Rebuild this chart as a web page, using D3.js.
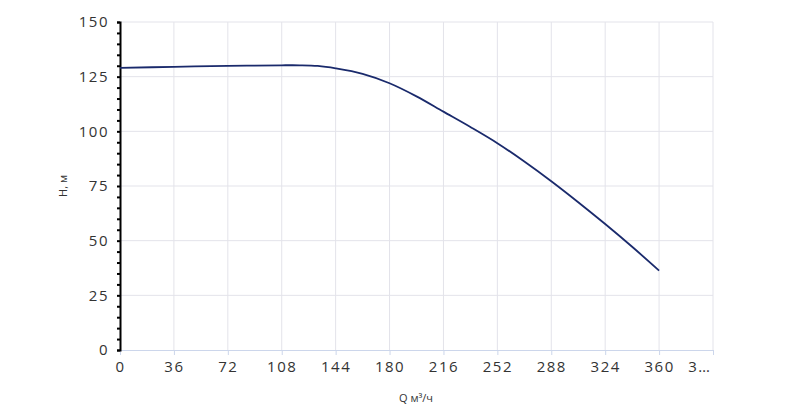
<!DOCTYPE html><html><head><meta charset="utf-8"><script src="https://cdn.jsdelivr.net/npm/d3@7"></script>
<style>body{margin:0;background:#fff}text{font-family:"Open Sans",sans-serif}</style></head><body><svg width="800" height="408"></svg>
<script>
const xTicks=[0,36,72,108,144,180,216,252,288,324,360,396];
const xTickLabels=["0","36","72","108","144","180","216","252","288","324","360","3…"];
const yTicks=[0,25,50,75,100,125,150];
const flowQ=[0,36,72,108,120,132,144,162,180,198,216,234,252,270,288,306,324,342,360];
const headH=[129,129.5,129.9,130.2,130.2,129.9,128.8,126.3,122,116,109,102,94.6,86.2,77.2,67.6,57.6,47.2,36.3];
const svg=d3.select("svg");
const x=d3.scaleLinear().domain([0,396]).range([120,713]);
const y=d3.scaleLinear().domain([0,150]).range([350,22]);
const g=svg.append("g");
g.selectAll(".vg").data(xTicks.slice(1)).join("line").attr("x1",d=>x(d)).attr("x2",d=>x(d)).attr("y1",y(150)).attr("y2",y(0)).attr("stroke","#e3e3ea");
g.selectAll(".hg").data(yTicks.slice(1)).join("line").attr("x1",x(0)).attr("x2",x(396)).attr("y1",d=>y(d)).attr("y2",d=>y(d)).attr("stroke","#e3e3ea");
const xa=svg.append("g").attr("transform","translate(0,350)").call(d3.axisBottom(x).tickValues(xTicks).tickFormat((d,i)=>xTickLabels[i]).tickSize(5).tickPadding(6));
xa.select(".domain").attr("stroke","#ccd6eb");
xa.selectAll(".tick line").attr("stroke","#ccd6eb");
xa.selectAll("text").attr("font-size",15).attr("fill","#333").attr("letter-spacing","1.5px");
xa.selectAll(".tick").filter(d=>d===396).select("text").attr("text-anchor","end").attr("dx",-2);
const ya=svg.append("g").attr("transform","translate(120,0)").call(d3.axisLeft(y).tickValues(d3.range(0,151,5)).tickFormat(d=>d%25===0?d:"").tickSize(3).tickPadding(8));
ya.select(".domain").attr("stroke","#000").attr("stroke-width",2);
ya.selectAll(".tick line").attr("stroke","#000").attr("stroke-width",2);
ya.selectAll("text").attr("font-size",15).attr("fill","#333").attr("letter-spacing","1.5px");
svg.append("path").datum(flowQ.map((q,i)=>[q,headH[i]])).attr("fill","none").attr("stroke","#1a2a6c").attr("stroke-width",1.8)
 .attr("d",d3.line().x(d=>x(d[0])).y(d=>y(d[1])).curve(d3.curveCatmullRom));
svg.append("text").attr("x",416).attr("y",402).attr("text-anchor","middle").attr("font-size",11).attr("fill","#333").text("Q м³/ч");
svg.append("text").attr("transform","translate(67,186) rotate(-90)").attr("text-anchor","middle").attr("font-size",11).attr("fill","#333").text("H, м");
</script></body></html>
